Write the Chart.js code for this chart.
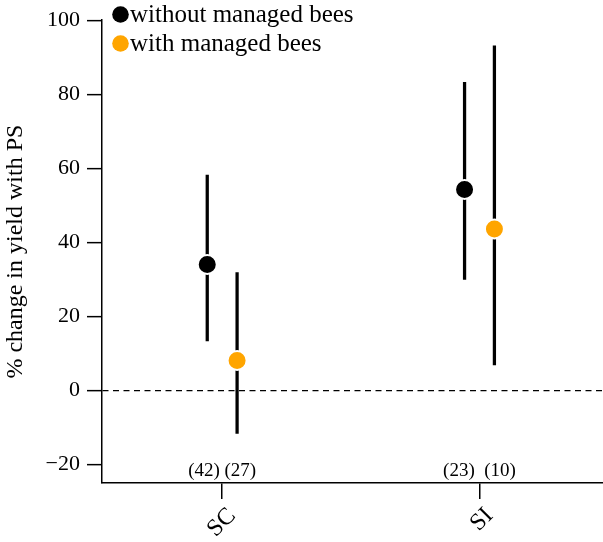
<!DOCTYPE html>
<html>
<head>
<meta charset="utf-8">
<script src="https://cdn.jsdelivr.net/npm/chart.js@4.4.1/dist/chart.umd.min.js"></script>
<style>
  html, body { margin: 0; padding: 0; background: #fff; overflow: hidden; }
  .wrap { position: relative; width: 603px; height: 542px; }
</style>
</head>
<body>
<div class="wrap"><canvas id="beeChart"></canvas></div>
<script>
// values (% change in yield with PS, mean and interval)
const categories = ['SC', 'SI'];
const groups = ['without managed bees', 'with managed bees'];
const meanWithout = [34.0, 54.3];
const lowWithout = [13.4, 30.0];
const highWithout = [58.2, 83.2];
const meanWith = [8.1, 43.6];
const lowWith = [-11.6, 6.9];
const highWith = [31.8, 93.1];
const sampleSizes = ['(42) (27)', '(23)  (10)'];
const yTicks = [-20, 0, 20, 40, 60, 80, 100];

const serif = "'Liberation Serif', 'DejaVu Serif', serif";
const colors = ['#000000', '#FFA500'];
const dodge = 0.058;

function xPos(i, side) {
    return i + 1 + side * dodge;
}

// all intervals drawn as thin floating bars, black like the original
const whiskers = [];
categories.forEach((c, i) => {
    whiskers.push({ x: xPos(i, -1), y: [lowWithout[i], highWithout[i]] });
    whiskers.push({ x: xPos(i, 1), y: [lowWith[i], highWith[i]] });
});

const legendPlugin = {
    id: 'cornerLegend',
    afterDraw(chart) {
        const c = chart.ctx;
        c.save();
        c.font = '25px ' + serif;
        c.textBaseline = 'middle';
        groups.forEach((g, k) => {
            const y = 14.5 + k * 29;
            c.beginPath();
            c.arc(120.5, y, 8.3, 0, Math.PI * 2);
            c.fillStyle = colors[k];
            c.fill();
            c.fillStyle = '#000';
            c.fillText(g, 130, y + 1);
        });
        c.restore();
    }
};

const sampleSizePlugin = {
    id: 'sampleSizes',
    afterDatasetsDraw(chart) {
        const c = chart.ctx;
        const xs = chart.scales.x;
        c.save();
        c.font = '19px ' + serif;
        c.fillStyle = '#000';
        c.textAlign = 'center';
        c.textBaseline = 'alphabetic';
        sampleSizes.forEach((s, i) => {
            c.fillText(s, xs.getPixelForValue(i + 1), xs.top - 7);
        });
        c.restore();
    }
};

new Chart(document.getElementById('beeChart'), {
    type: 'scatter',
    data: {
        datasets: [
            {
                type: 'scatter',
                label: groups[0],
                data: categories.map((c, i) => ({ x: xPos(i, -1), y: meanWithout[i] })),
                backgroundColor: colors[0],
                borderColor: '#fff',
                borderWidth: 2,
                pointRadius: 9.5,
                order: 0
            },
            {
                type: 'scatter',
                label: groups[1],
                data: categories.map((c, i) => ({ x: xPos(i, 1), y: meanWith[i] })),
                backgroundColor: colors[1],
                borderColor: '#fff',
                borderWidth: 2,
                pointRadius: 9.5,
                order: 0
            },
            {
                type: 'bar',
                label: 'interval',
                data: whiskers,
                backgroundColor: '#000',
                barThickness: 2.6,
                order: 1
            }
        ]
    },
    options: {
        responsive: true,
        maintainAspectRatio: false,
        animation: false,
        layout: {
            autoPadding: false,
            padding: { top: 17.5, right: 0, left: 0, bottom: 0 }
        },
        plugins: {
            legend: { display: false },
            tooltip: { enabled: false }
        },
        scales: {
            x: {
                type: 'linear',
                min: 0.533,
                max: 2.48,
                offset: false,
                afterBuildTicks: s => { s.ticks = categories.map((c, i) => ({ value: i + 1 })); },
                afterFit: s => {
                    s.height = 59;
                    s.paddingLeft = 0;
                    s.paddingRight = 0;
                },
                grid: {
                    drawOnChartArea: false,
                    offset: false,
                    color: '#000',
                    lineWidth: 1.5,
                    tickLength: 16
                },
                border: { color: '#000', width: 1.5 },
                ticks: {
                    color: '#000',
                    font: { family: serif, size: 24 },
                    minRotation: 45,
                    maxRotation: 45,
                    padding: 3,
                    labelOffset: 10,
                    autoSkip: false,
                    callback: v => categories[v - 1]
                }
            },
            y: {
                min: -25,
                max: 100,
                afterBuildTicks: s => { s.ticks = yTicks.map(v => ({ value: v })); },
                afterFit: s => { s.width = 102; },
                grid: {
                    color: ctx => (ctx.tick && ctx.tick.value === 0 ? '#000' : 'rgba(0,0,0,0)'),
                    lineWidth: 1.3,
                    tickColor: '#000',
                    tickWidth: 1.5,
                    tickLength: 15
                },
                border: { color: '#000', width: 1.5, dash: [6, 4.5] },
                ticks: {
                    color: '#000',
                    font: { family: serif, size: 22 },
                    padding: 7,
                    callback: v => String(v).replace('-', '\u2212')
                },
                title: {
                    display: true,
                    text: '% change in yield with PS',
                    color: '#000',
                    font: { family: serif, size: 24 },
                    padding: { top: 1, bottom: 0 }
                }
            }
        }
    },
    plugins: [legendPlugin, sampleSizePlugin]
});
</script>
</body>
</html>
